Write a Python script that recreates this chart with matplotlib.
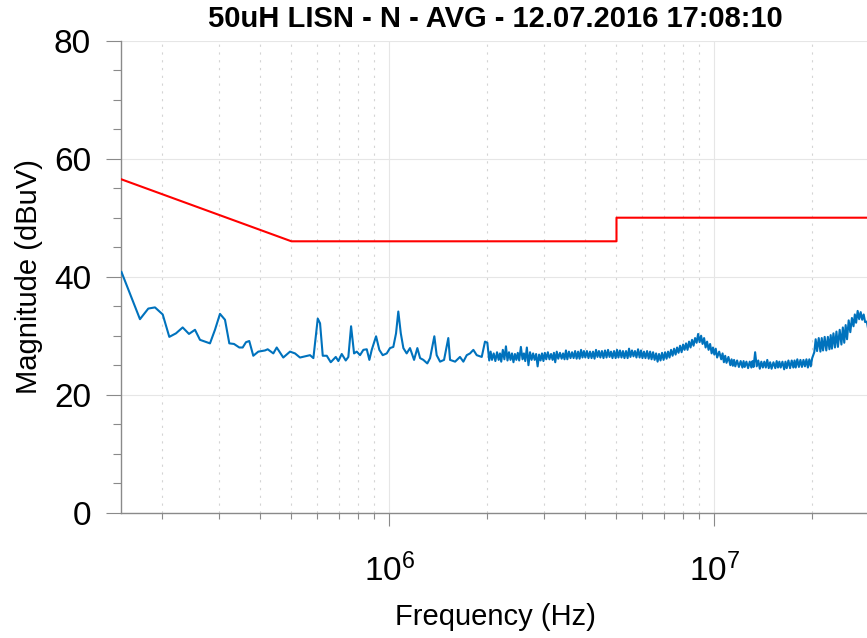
import matplotlib
matplotlib.use("Agg")
import matplotlib.pyplot as plt
from matplotlib.ticker import FixedLocator, MultipleLocator, FixedFormatter, NullFormatter
import numpy as np

plt.rcParams['font.family'] = ['Liberation Sans', 'DejaVu Sans']
plt.rcParams['mathtext.fontset'] = 'custom'
plt.rcParams['mathtext.rm'] = 'Liberation Sans'
plt.rcParams['mathtext.it'] = 'Liberation Sans:italic'
plt.rcParams['mathtext.bf'] = 'Liberation Sans:bold'

title = "50uH LISN - N - AVG - 12.07.2016 17:08:10"
xlabel = "Frequency (Hz)"
ylabel = "Magnitude (dBuV)"

# Limit line (CISPR average)
limit_freq_hz = [150e3, 500e3, 5e6, 5e6, 30e6]
limit_dbuv = [56.5, 46.0, 46.0, 50.0, 50.0]

# Measured trace, low-frequency part (kHz)
meas_low_freq_khz = [150, 171, 181.4, 190.2, 200.9, 210.5, 220.7, 231.4, 242.0, 252.5,
                     261.6, 280.8, 290.9, 301.4, 312.3, 322.0, 332.9, 345.6, 354.0, 362.4,
                     370.9, 381.6, 395.4, 414.6, 422.6, 439.8, 450.5, 471.9, 495.0, 512.8,
                     531.3, 570.5, 584.1, 602.5, 612.4, 624.2, 642.2, 660.6, 684.5, 697.2,
                     714.1, 734.6, 748.3, 762.9, 779.2, 794.3, 812.9, 832.2, 852.5, 868.4,
                     883.1, 910.6, 932.0, 954.6, 982.1, 1005, 1029, 1049, 1066, 1085,
                     1105, 1131, 1158, 1192, 1220, 1244, 1273, 1309, 1335, 1376,
                     1399, 1433, 1474, 1519, 1538, 1594, 1650, 1690, 1731, 1772,
                     1814, 1858, 1925, 1970, 2003]
meas_low_dbuv = [40.8, 32.8, 34.6, 34.8, 33.6, 29.8, 30.4, 31.4, 30.3, 31.0,
                 29.3, 28.7, 31.0, 33.7, 32.7, 28.7, 28.6, 28.0, 28.0, 28.9,
                 29.1, 26.6, 27.3, 27.5, 27.7, 27.0, 28.0, 26.3, 27.3, 27.0,
                 26.3, 26.7, 26.2, 32.9, 32.1, 26.6, 26.6, 25.5, 26.4, 25.7,
                 26.9, 25.8, 26.4, 31.6, 27.0, 27.3, 26.7, 27.6, 27.7, 25.9,
                 27.6, 29.9, 27.6, 26.7, 27.0, 27.9, 28.1, 30.4, 34.1, 30.4,
                 27.9, 27.0, 27.9, 25.9, 27.9, 26.2, 25.9, 25.3, 26.2, 29.9,
                 26.7, 25.6, 25.9, 29.6, 25.9, 25.6, 26.4, 25.6, 26.7, 27.0,
                 27.6, 26.7, 26.4, 29.0, 28.8]

# Measured trace, dense part (MHz): lower excursions of the noise
meas_hi_a_freq_mhz = [2.03, 2.07, 2.12, 2.17, 2.21, 2.26, 2.31, 2.36, 2.41, 2.46,
                      2.51, 2.57, 2.62, 2.68, 2.74, 2.80, 2.86, 2.92, 2.98, 3.04,
                      3.11, 3.18, 3.24, 3.31, 3.39, 3.46, 3.53, 3.61, 3.69, 3.77,
                      3.85, 3.93, 4.01, 4.10, 4.19, 4.28, 4.37, 4.46, 4.56, 4.66,
                      4.76, 4.86, 4.97, 5.07, 5.18, 5.29, 5.41, 5.52, 5.64, 5.76,
                      5.89, 6.01, 6.14, 6.28, 6.41, 6.55, 6.69, 6.83, 6.98, 7.13,
                      7.28, 7.44, 7.60, 7.76, 7.93, 8.10, 8.27, 8.45, 8.63, 8.82,
                      9.01, 9.20, 9.40, 9.60, 9.81, 10.0, 10.2, 10.5, 10.7, 10.9,
                      11.2, 11.4, 11.6, 11.9, 12.2, 12.4, 12.7, 13.0, 13.2, 13.5,
                      13.8, 14.1, 14.4, 14.7, 15.0, 15.4, 15.7, 16.0, 16.4, 16.7,
                      17.1, 17.5, 17.8, 18.2, 18.6, 19.0, 19.4, 19.8, 20.3, 20.7,
                      21.2, 21.6, 22.1, 22.6, 23.0, 23.5, 24.0, 24.6, 25.1, 25.6,
                      26.2, 26.8, 27.3, 27.9, 28.5, 29.1, 29.8, 30.0]
meas_hi_a_dbuv = [25.8, 25.9, 25.7, 25.9, 25.6, 26.0, 25.8, 25.9, 25.5, 25.9,
                  25.8, 26.0, 25.7, 25.0, 25.9, 25.9, 24.8, 25.8, 25.7, 26.0,
                  26.0, 25.9, 25.5, 26.1, 26.1, 26.0, 26.0, 26.2, 26.2, 26.1,
                  26.1, 26.3, 26.3, 26.2, 26.2, 26.1, 26.4, 26.3, 26.2, 26.3,
                  26.4, 26.2, 26.2, 26.3, 26.3, 26.2, 26.2, 26.4, 26.5, 26.3,
                  26.3, 26.2, 26.2, 26.1, 26.0, 25.9, 25.6, 25.8, 25.9, 26.1,
                  26.3, 26.6, 26.8, 27.1, 27.2, 27.6, 27.6, 28.0, 28.3, 28.8,
                  28.9, 28.6, 28.0, 27.6, 27.0, 26.8, 26.3, 26.0, 25.5, 25.4,
                  25.0, 24.9, 24.8, 24.7, 24.6, 24.7, 24.5, 24.6, 24.7, 24.8,
                  24.4, 24.6, 24.6, 24.5, 24.4, 24.5, 24.6, 24.6, 24.3, 24.5,
                  24.5, 24.6, 24.6, 24.7, 24.7, 24.8, 24.6, 24.8, 27.2, 27.4,
                  27.3, 27.5, 27.5, 27.7, 27.8, 28.0, 28.1, 28.5, 28.8, 29.4,
                  30.6, 31.6, 32.2, 32.8, 32.7, 32.3, 30.8, 29.8]

# Measured trace, dense part (MHz): upper excursions of the noise
meas_hi_b_freq_mhz = [2.05, 2.095, 2.145, 2.19, 2.235, 2.285, 2.335, 2.385, 2.435, 2.485,
                      2.54, 2.595, 2.65, 2.71, 2.77, 2.83, 2.89, 2.95, 3.01, 3.075,
                      3.145, 3.21, 3.275, 3.35, 3.425, 3.495, 3.57, 3.65, 3.73, 3.81,
                      3.89, 3.97, 4.055, 4.145, 4.235, 4.325, 4.415, 4.51, 4.61, 4.71,
                      4.81, 4.915, 5.02, 5.125, 5.235, 5.35, 5.465, 5.58, 5.70, 5.825,
                      5.95, 6.075, 6.21, 6.345, 6.48, 6.62, 6.76, 6.905, 7.055, 7.205,
                      7.36, 7.52, 7.68, 7.845, 8.015, 8.185, 8.36, 8.54, 8.725, 8.915,
                      9.105, 9.30, 9.50, 9.705, 9.905, 10.1, 10.35, 10.6, 10.8, 11.05,
                      11.3, 11.5, 11.75, 12.05, 12.3, 12.55, 12.85, 13.1, 13.35, 13.65,
                      13.95, 14.25, 14.55, 14.85, 15.2, 15.55, 15.85, 16.2, 16.55, 16.9,
                      17.3, 17.65, 18.0, 18.4, 18.8, 19.2, 19.6, 20.0, 20.5, 20.95,
                      21.4, 21.85, 22.35, 22.8, 23.25, 23.75, 24.3, 24.85, 25.35, 25.9,
                      26.5, 27.05, 27.6, 28.2, 28.8, 29.45, 29.9]
meas_hi_b_dbuv = [27.3, 27.0, 27.2, 27.0, 27.6, 28.2, 27.2, 27.0, 26.9, 27.1,
                  28.1, 27.0, 28.0, 27.2, 27.0, 26.9, 26.8, 27.0, 27.1, 27.2,
                  26.9, 27.1, 27.3, 27.1, 27.0, 27.5, 27.3, 27.2, 27.4, 27.3,
                  27.6, 27.4, 27.4, 27.3, 27.3, 27.6, 27.4, 27.4, 27.5, 27.6,
                  27.3, 27.4, 27.6, 27.5, 27.4, 27.4, 27.8, 27.5, 27.4, 27.7,
                  27.5, 27.3, 27.4, 27.3, 27.2, 27.0, 26.9, 27.1, 27.2, 27.3,
                  27.6, 27.8, 28.0, 28.3, 28.5, 28.7, 29.0, 29.3, 29.6, 30.3,
                  30.0, 29.6, 29.0, 28.6, 28.0, 27.8, 27.3, 27.0, 26.6, 26.4,
                  26.0, 25.9, 25.8, 25.7, 25.7, 25.6, 25.6, 25.7, 27.2, 25.8,
                  25.6, 25.6, 25.9, 25.5, 25.5, 25.7, 25.6, 25.6, 25.6, 25.8,
                  25.8, 25.8, 26.0, 25.9, 25.9, 26.0, 26.0, 26.2, 29.4, 29.6,
                  29.6, 29.8, 29.8, 30.1, 30.4, 30.7, 31.0, 31.4, 31.8, 32.6,
                  33.0, 33.6, 34.2, 34.0, 33.6, 32.4, 30.8]

x_major = [1e6, 1e7]
x_major_labels = [r'$\mathregular{10^{6}}$', r'$\mathregular{10^{7}}$']
x_minor = [2e5, 3e5, 4e5, 5e5, 6e5, 7e5, 8e5, 9e5,
           2e6, 3e6, 4e6, 5e6, 6e6, 7e6, 8e6, 9e6, 2e7]
y_major = [0, 20, 40, 60, 80]

meas_freq = np.concatenate([np.array(meas_low_freq_khz) * 1e3,
                            np.array(meas_hi_a_freq_mhz) * 1e6,
                            np.array(meas_hi_b_freq_mhz) * 1e6])
meas_db = np.concatenate([meas_low_dbuv, meas_hi_a_dbuv, meas_hi_b_dbuv])
order = np.argsort(meas_freq, kind='stable')
meas_freq = meas_freq[order]
meas_db = meas_db[order]

fig = plt.figure(figsize=(8.67, 6.38), dpi=100)
ax = fig.add_axes([0.1401, 0.1964, 0.8627, 0.7398])

ax.plot(meas_freq, meas_db, color='#0072BD', lw=1.5, zorder=3)
ax.plot(limit_freq_hz, limit_dbuv, color='#FF0000', lw=1.5, zorder=4)

ax.set_xscale('log')
ax.set_xlim(150e3, 30e6)
ax.set_ylim(0, 80)

ax.xaxis.set_major_locator(FixedLocator(x_major))
ax.xaxis.set_major_formatter(FixedFormatter(x_major_labels))
ax.xaxis.set_minor_locator(FixedLocator(x_minor))
ax.xaxis.set_minor_formatter(NullFormatter())
ax.yaxis.set_major_locator(FixedLocator(y_major))
ax.yaxis.set_minor_locator(MultipleLocator(5))

for s in ['top', 'right']:
    ax.spines[s].set_visible(False)
for s in ['left', 'bottom']:
    ax.spines[s].set_color('#8a8a8a')
    ax.spines[s].set_linewidth(1.0)

ax.tick_params(axis='both', which='both', direction='out', color='#8a8a8a', width=0.8)
ax.tick_params(axis='y', which='major', length=11, labelsize=24, pad=11)
ax.tick_params(axis='y', which='minor', length=5.5)
ax.tick_params(axis='x', which='major', length=9.5, labelsize=24, pad=20)
ax.tick_params(axis='x', which='minor', length=4)

ax.grid(True, which='major', color='#e6e6e6', lw=0.8, zorder=0)
ax.grid(True, which='minor', axis='x', color='#d4d4d4', lw=0.8, linestyle=(0, (2, 5)), zorder=0)
ax.set_axisbelow(True)

ax.set_title(title, fontsize=21, fontweight='bold', pad=10)
ax.set_xlabel(xlabel, fontsize=21, labelpad=11)
ax.set_ylabel(ylabel, fontsize=21, labelpad=8)

fig.savefig('out.png', dpi=100)
